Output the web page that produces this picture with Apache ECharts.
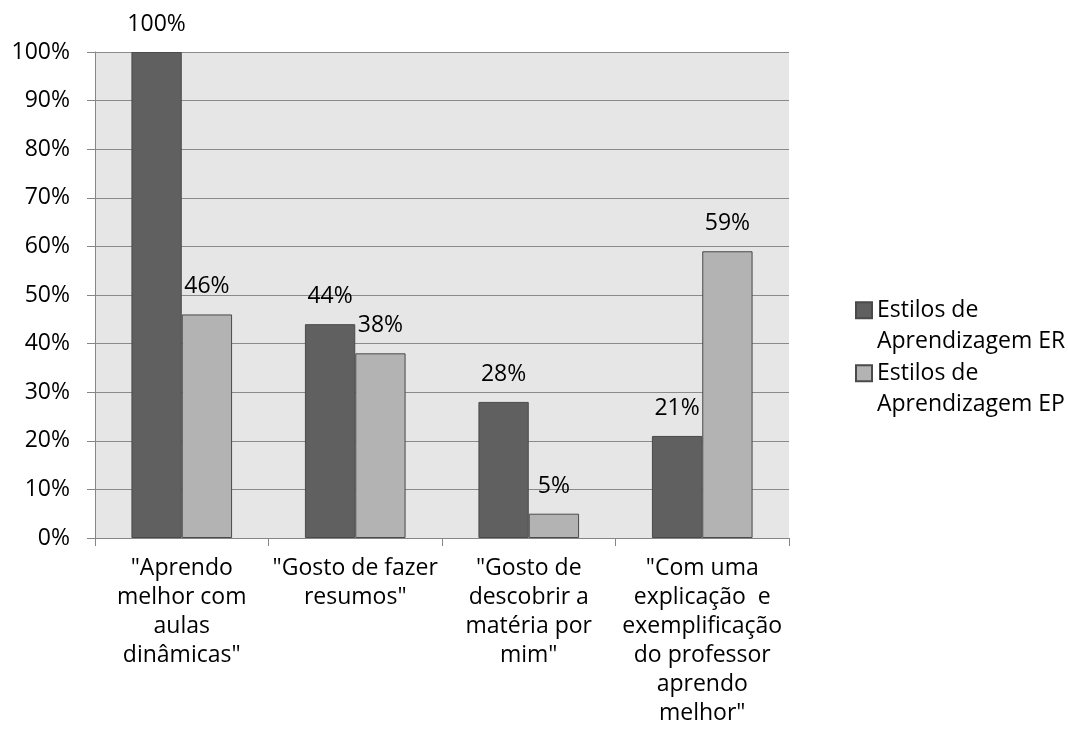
<!DOCTYPE html>
<html>
<head>
<meta charset="utf-8">
<script src="https://cdn.jsdelivr.net/npm/echarts@6/dist/echarts.min.js"></script>
<style>
  html, body { margin: 0; padding: 0; background: #ffffff; }
  #chart { width: 1068px; height: 742px; }
</style>
</head>
<body>
<div id="chart"></div>
<script>
// Categories (line breaks as displayed under the axis)
const categories = [
  '"Aprendo\nmelhor com\naulas\ndinâmicas"',
  '"Gosto de fazer\nresumos"',
  '"Gosto de\ndescobrir a\nmatéria por\nmim"',
  '"Com uma\nexplicação  e\nexemplificação\ndo professor\naprendo\nmelhor"'
];

// Series names and values (percent)
const seriesNames = ['Estilos de\nAprendizagem ER', 'Estilos de\nAprendizagem EP'];
const valuesER = [100, 44, 28, 21];
const valuesEP = [46, 38, 5, 59];

// Value axis range
const yMin = 0;
const yMax = 100;
const yStep = 10;

const FONT = '"Open Sans", "Liberation Sans", sans-serif';
const FONT_SIZE = 23;
const colors = ['#606060', '#b3b3b3'];

const chart = echarts.init(document.getElementById('chart'), null, { renderer: 'canvas' });

function barSeries(name, values, color) {
  return {
    name: name,
    type: 'bar',
    data: values,
    barGap: '0%',
    barCategoryGap: '42%',
    itemStyle: { color: color, borderColor: '#4a4a4a', borderWidth: 1 },
    label: {
      show: true,
      position: 'top',
      distance: 13,
      formatter: '{c}%',
      color: '#000',
      fontFamily: FONT,
      fontSize: FONT_SIZE,
      lineHeight: 29
    },
    emphasis: { disabled: true }
  };
}

chart.setOption({
  animation: false,
  backgroundColor: '#ffffff',
  textStyle: { fontFamily: FONT },
  grid: {
    left: 95, right: 279, top: 52, bottom: 204,
    show: true, backgroundColor: '#e6e6e6', borderWidth: 0
  },
  legend: {
    orient: 'vertical',
    left: 855,
    top: 263,
    padding: 0,
    icon: 'rect',
    itemWidth: 16,
    itemHeight: 16,
    itemGap: -31.5,
    selectedMode: false,
    // leading blank line keeps the swatch level with the first text line
    formatter: function (name) { return '\n' + name; },
    textStyle: { fontFamily: FONT, fontSize: FONT_SIZE, lineHeight: 31.5, color: '#000' },
    data: seriesNames
  },
  xAxis: {
    type: 'category',
    data: categories,
    axisLine: { show: true, lineStyle: { color: '#868686', width: 1 } },
    axisTick: { show: true, alignWithLabel: false, length: 8, lineStyle: { color: '#868686' } },
    axisLabel: {
      interval: 0,
      margin: 16,
      color: '#000',
      fontFamily: FONT,
      fontSize: FONT_SIZE,
      lineHeight: 29,
      align: 'center'
    },
    splitLine: { show: false }
  },
  yAxis: {
    type: 'value',
    min: yMin,
    max: yMax,
    interval: yStep,
    axisLine: { show: true, lineStyle: { color: '#868686', width: 1 } },
    axisTick: { show: true, length: 8, lineStyle: { color: '#868686' } },
    axisLabel: {
      formatter: '{value}%',
      margin: 25,
      color: '#000',
      fontFamily: FONT,
      fontSize: FONT_SIZE
    },
    splitLine: { show: true, lineStyle: { color: '#8a8a8a', width: 1 } }
  },
  series: [
    barSeries(seriesNames[0], valuesER, colors[0]),
    barSeries(seriesNames[1], valuesEP, colors[1])
  ]
});
</script>
</body>
</html>
